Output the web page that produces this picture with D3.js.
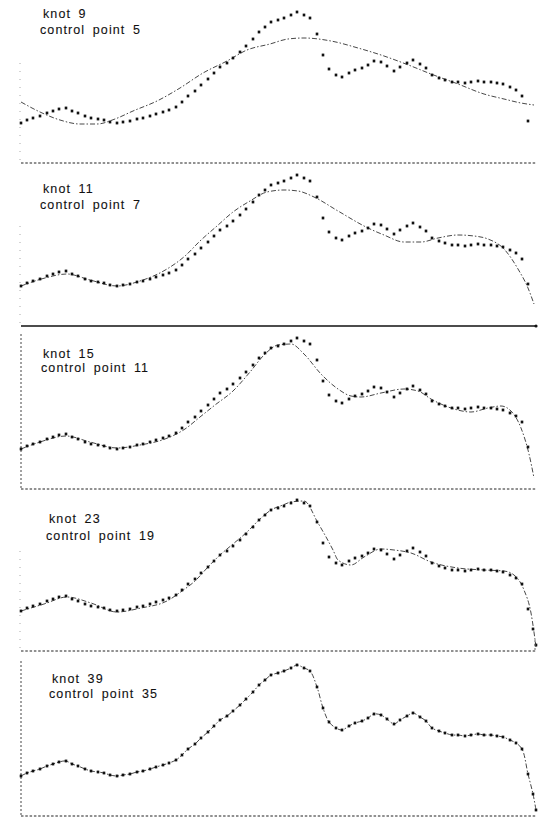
<!DOCTYPE html>
<html>
<head>
<meta charset="utf-8">
<script src="https://cdn.jsdelivr.net/npm/d3@7"></script>
<style>
  body { margin: 0; background: #fff; }
  svg { display: block; }
  .label {
    font-family: "Liberation Sans", Arial, sans-serif;
    font-size: 12.5px;
    fill: #111;
    stroke: #111;
    stroke-width: 0.1px;
    letter-spacing: 1.1px;
    word-spacing: 3px;
  }
</style>
</head>
<body>
<div id="chart"></div>
<script>
// measured samples (position along the profile, height)
const sampleX = [0, 6, 12, 19, 26, 32, 38, 45, 51, 57, 64, 70, 77, 83, 89, 96, 102, 109, 116, 122,
  129, 135, 142, 148, 155, 161, 167, 174, 180, 187, 193, 199, 206, 212, 219, 225, 232, 238, 244, 250,
  257, 263, 270, 276, 283, 289, 296, 302, 308, 315, 321, 328, 334, 341, 347, 353, 360, 366, 373, 379,
  386, 392, 399, 405, 411, 418, 424, 431, 437, 444, 450, 457, 463, 470, 476, 482, 489, 495, 501, 507,
  512, 515];
const sampleY = [0, 3, 5, 7, 10, 12, 14, 15, 12, 10, 7, 5, 4, 3, 1, 0, 1, 2, 4, 5,
  7, 9, 11, 13, 16, 21, 27, 32, 38, 44, 50, 56, 60, 65, 71, 77, 84, 91, 96, 101,
  103, 105, 108, 111, 108, 105, 89, 68, 54, 48, 46, 50, 53, 55, 58, 62, 61, 57, 52, 56,
  60, 63, 59, 55, 48, 45, 43, 41, 41, 40, 41, 42, 41, 41, 40, 39, 36, 33, 27, 2,
  -18, -34];

// fitted B-spline curves, one per knot count
const fit9X = [0, 19, 39, 59, 76, 94, 112, 136, 159, 182, 206, 226, 249, 267, 283, 310, 337, 363, 390, 410, 437, 463, 483, 500, 513];
const fit9Y = [21, 11, 3, -1, -1, 4, 12, 22, 35, 50, 62, 73, 79, 84, 85, 82, 75, 67, 57, 49, 39, 29, 24, 20, 18];

const fit11X = [0, 24, 46, 69, 96, 119, 146, 164, 179, 196, 212, 229, 246, 263, 277, 293, 317, 347, 363, 383, 400, 417, 437, 453, 467, 483, 497, 507, 513];
const fit11Y = [0, 8, 12, 6, 0, 5, 17, 30, 45, 60, 74, 85, 94, 96, 95, 89, 75, 58, 51, 44, 44, 48, 51, 50, 47, 37, 17, -2, -18];

const fit15X = [0, 19, 45, 69, 96, 119, 144, 164, 179, 194, 212, 229, 244, 257, 270, 283, 300, 317, 330, 340, 360, 383, 397, 410, 430, 450, 467, 480, 490, 500, 508, 513];
const fit15Y = [0, 7, 13, 7, 1, 4, 10, 20, 32, 44, 58, 77, 95, 104, 105, 95, 75, 60, 53, 52, 56, 60, 58, 50, 41, 37, 41, 43, 38, 21, -5, -29];

const fit23X = [0, 23, 46, 70, 96, 120, 146, 161, 174, 187, 199, 212, 226, 238, 250, 262, 270, 283, 297, 312, 317, 330, 343, 360, 373, 390, 410, 437, 463, 483, 493, 503, 510, 515];
const fit23Y = [0, 7, 14, 8, -1, 3, 10, 20, 30, 44, 56, 67, 79, 91, 101, 106, 109, 110, 88, 61, 51, 46, 54, 62, 61, 58, 49, 43, 41, 40, 36, 21, -2, -36];

const knotLabels = ["knot 9", "knot 11", "knot 15", "knot 23", "knot 39"];
const controlLabels = ["control point 5", "control point 7", "control point 11", "control point 19", "control point 35"];
const fitXs = [fit9X, fit11X, fit15X, fit23X, sampleX];
const fitYs = [fit9Y, fit11Y, fit15Y, fit23Y, sampleY];
const samplesShown = [80, 80, 80, 82, 82];

(function() {
  const width = 542, height = 818;

  // layout of the five stacked panels
  const panelTop = [-1, 162, 325, 487, 652];
  const panelH = 164;
  const bottomRule = ["dotted", "solid", "dotted", "dotted", "dotted"];
  const leftRule = ["faint", "faint", "dotted", "faint", "dotted"];
  const labelAt = [
    [43, 19, 40, 35],
    [43, 31, 40, 47],
    [43, 33, 41, 47],
    [49, 36, 46, 53],
    [52, 31, 49, 46]
  ];

  const svg = d3.select("#chart").append("svg")
    .attr("width", width)
    .attr("height", height);

  const x = d3.scaleLinear().domain([0, 515]).range([21, 536]);

  panelTop.forEach((top, i) => {
    const y = d3.scaleLinear().domain([-40, 124]).range([top + panelH, top]);
    const g = svg.append("g");

    // frame
    const yb = y(-40);
    if (bottomRule[i] === "solid") {
      g.append("line")
        .attr("x1", x(0)).attr("x2", x(515))
        .attr("y1", yb).attr("y2", yb)
        .attr("stroke", "#111").attr("stroke-width", 1.4);
      g.append("circle")
        .attr("cx", x(515)).attr("cy", yb).attr("r", 1.6)
        .attr("fill", "#111");
    } else {
      g.append("line")
        .attr("x1", x(0)).attr("x2", x(515))
        .attr("y1", yb).attr("y2", yb)
        .attr("stroke", "#222").attr("stroke-width", 1)
        .attr("stroke-dasharray", "2.5,1.8");
    }
    if (leftRule[i] === "dotted") {
      g.append("line")
        .attr("x1", x(0)).attr("x2", x(0))
        .attr("y1", y(115)).attr("y2", yb)
        .attr("stroke", "#444").attr("stroke-width", 1)
        .attr("stroke-dasharray", "2,2");
    } else {
      g.append("line")
        .attr("x1", x(0) - 1).attr("x2", x(0) - 1)
        .attr("y1", y(60)).attr("y2", yb)
        .attr("stroke", "#aaa").attr("stroke-width", 1)
        .attr("stroke-dasharray", "1,7");
    }
    if (i === 4) {
      g.append("line")
        .attr("x1", x(514)).attr("x2", x(514))
        .attr("y1", y(136)).attr("y2", y(124))
        .attr("stroke", "#666").attr("stroke-width", 1)
        .attr("stroke-dasharray", "2,2");
    }

    // fitted curve
    const fit = fitXs[i].map((v, j) => [v, fitYs[i][j]]);
    const line = d3.line()
      .x(d => x(d[0]))
      .y(d => y(d[1]))
      .curve(i === 4 ? d3.curveCatmullRom : d3.curveMonotoneX);
    g.append("path")
      .datum(fit)
      .attr("fill", "none")
      .attr("stroke", "#333")
      .attr("stroke-width", 0.9)
      .attr("stroke-dasharray", "5,2,1.5,2")
      .attr("d", line);

    // sample dots
    const pts = sampleX.slice(0, samplesShown[i]).map((v, j) => [v, sampleY[j]]);
    g.selectAll("rect.pt")
      .data(pts)
      .join("rect")
      .attr("class", "pt")
      .attr("x", d => x(d[0]) - 1.3)
      .attr("y", d => y(d[1]) - 1.4)
      .attr("width", 2.6)
      .attr("height", 2.8)
      .attr("fill", "#111");

    // labels
    const la = labelAt[i];
    g.append("text")
      .attr("class", "label")
      .attr("x", la[0]).attr("y", top + la[1])
      .text(knotLabels[i]);
    g.append("text")
      .attr("class", "label")
      .attr("x", la[2]).attr("y", top + la[3])
      .text(controlLabels[i]);
  });
})();
</script>
</body>
</html>
